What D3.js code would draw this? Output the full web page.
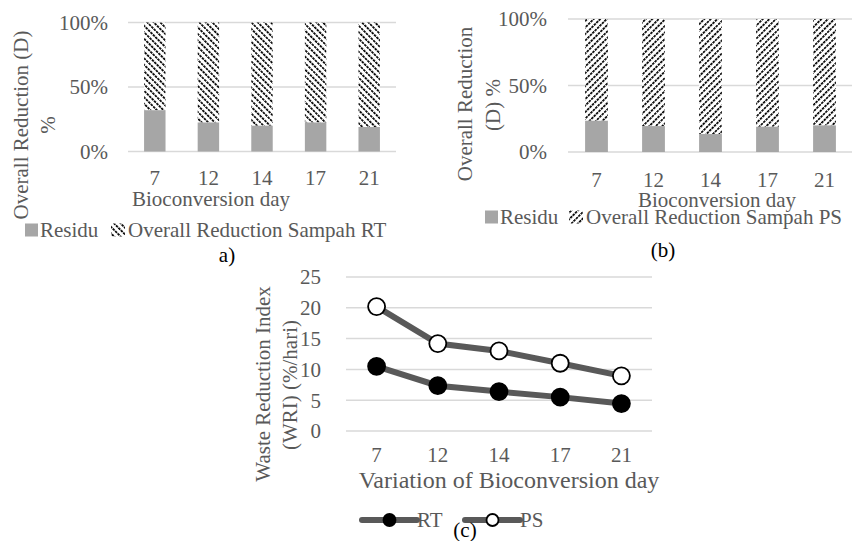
<!DOCTYPE html>
<html>
<head>
<meta charset="utf-8">
<script src="https://cdn.jsdelivr.net/npm/d3@7"></script>
<style>
  body { margin: 0; background: #fff; }
  text { font-family: "Liberation Serif", "Times New Roman", serif; fill: #595959; }
</style>
</head>
<body>
<script>
// data
var days = ['7', '12', '14', '17', '21'];
var residuRT = [0.32, 0.225, 0.20, 0.225, 0.19];
var residuPS = [0.235, 0.195, 0.135, 0.19, 0.20];
var pctTicks = [0, 0.5, 1];
var wriRT = [10.5, 7.35, 6.4, 5.5, 4.45];
var wriPS = [20.2, 14.2, 13.0, 11.0, 8.95];
var wriTicks = [0, 5, 10, 15, 20, 25];

var svg = d3.select('body').append('svg').attr('width', 852).attr('height', 541);
var defs = svg.append('defs');

// dashed diagonal hatch
function hatch(id, angle) {
    var p = defs.append('pattern').attr('id', id).attr('patternUnits', 'userSpaceOnUse')
        .attr('width', 4.6).attr('height', 3.4).attr('patternTransform', 'rotate(' + angle + ')');
    p.append('rect').attr('width', 4.6).attr('height', 3.4).attr('fill', '#fff');
    p.append('rect').attr('x', 0).attr('y', 0).attr('width', 1.7).attr('height', 2.6).attr('fill', '#000');
}
hatch('hatchA', -45);
hatch('hatchB', 45);

var grey = '#595959', residuFill = '#a6a6a6', gridCol = '#d9d9d9';

function stacked(cfg) {
    var x = d3.scaleBand().domain(days).range([cfg.x0, cfg.x1]).paddingInner(0.6).paddingOuter(0.3);
    var y = d3.scaleLinear().domain([0, 1]).range([cfg.y0, cfg.y1]);
    var g = svg.append('g');

    g.selectAll('line.grid').data(pctTicks).enter().append('line')
        .attr('x1', cfg.x0).attr('x2', cfg.gx1)
        .attr('y1', function(d) { return y(d); }).attr('y2', function(d) { return y(d); })
        .attr('stroke', gridCol).attr('stroke-width', 1.5);

    g.selectAll('rect.top').data(cfg.values).enter().append('rect')
        .attr('x', function(d, i) { return x(days[i]); })
        .attr('width', x.bandwidth())
        .attr('y', y(1))
        .attr('height', function(d) { return y(d) - y(1); })
        .attr('fill', 'url(#' + cfg.pattern + ')');
    g.selectAll('rect.res').data(cfg.values).enter().append('rect')
        .attr('x', function(d, i) { return x(days[i]); })
        .attr('width', x.bandwidth())
        .attr('y', function(d) { return y(d); })
        .attr('height', function(d) { return y(0) - y(d); })
        .attr('fill', residuFill);

    g.selectAll('text.yt').data(pctTicks).enter().append('text')
        .attr('x', cfg.ytx).attr('y', function(d) { return y(d); })
        .attr('dy', '0.35em').attr('text-anchor', 'end').style('font-size', '21px')
        .text(function(d) { return d3.format('.0%')(d); });
    g.selectAll('text.xt').data(days).enter().append('text')
        .attr('x', function(d) { return x(d) + x.bandwidth() / 2; }).attr('y', cfg.xty)
        .attr('dy', '0.35em').attr('text-anchor', 'middle').style('font-size', '21px')
        .text(function(d) { return d; });

    g.append('text').attr('x', cfg.xtitle[0]).attr('y', cfg.xtitle[1]).attr('dy', '0.35em')
        .attr('text-anchor', 'middle').style('font-size', '21px').text('Bioconversion day');

    cfg.ytitle.forEach(function(t) {
        g.append('text').attr('transform', 'translate(' + t[1] + ',' + t[2] + ') rotate(-90)')
            .attr('dy', '0.35em').attr('text-anchor', 'middle').style('font-size', '21px').text(t[0]);
    });

    var L = cfg.legend;
    g.append('rect').attr('x', L.x).attr('y', L.y - 6.5).attr('width', 13).attr('height', 13).attr('fill', residuFill);
    g.append('text').attr('x', L.x + 15).attr('y', L.y).attr('dy', '0.35em').style('font-size', '21px').text('Residu');
    g.append('rect').attr('x', L.x2).attr('y', L.y - 6.5).attr('width', 14).attr('height', 13)
        .attr('fill', 'url(#' + cfg.pattern + ')');
    g.append('text').attr('x', L.x2 + 17).attr('y', L.y).attr('dy', '0.35em').style('font-size', '21px').text(L.label);

    g.append('text').attr('x', cfg.cap[1]).attr('y', cfg.cap[2]).attr('dy', '0.35em')
        .attr('text-anchor', 'middle').style('font-size', '21px').style('fill', '#000').text(cfg.cap[0]);
}

stacked({
    x0: 128, x1: 396, gx1: 396, y0: 151.5, y1: 22.5, values: residuRT, pattern: 'hatchA',
    ytx: 108, xty: 178, xtitle: [211, 199],
    ytitle: [['Overall Reduction (D)', 21, 125], ['%', 48, 125]],
    legend: { x: 25, y: 230, x2: 111, label: 'Overall Reduction Sampah RT' },
    cap: ['a)', 227, 255]
});
stacked({
    x0: 568, x1: 853, gx1: 852, y0: 152, y1: 19, values: residuPS, pattern: 'hatchB',
    ytx: 547, xty: 180, xtitle: [717, 200],
    ytitle: [['Overall Reduction', 465, 104], ['(D) %', 493, 105]],
    legend: { x: 485, y: 217, x2: 569, label: 'Overall Reduction Sampah PS' },
    cap: ['(b)', 663, 250]
});

// panel c: line chart
var xc = d3.scalePoint().domain(days).range([346, 652]).padding(0.5);
var yc = d3.scaleLinear().domain([0, 25]).range([431, 277]);
var gc = svg.append('g');

gc.selectAll('line.grid').data(wriTicks).enter().append('line')
    .attr('x1', 346).attr('x2', 652)
    .attr('y1', function(d) { return yc(d); }).attr('y2', function(d) { return yc(d); })
    .attr('stroke', gridCol).attr('stroke-width', 1.5);

gc.selectAll('text.yt').data(wriTicks).enter().append('text')
    .attr('x', 321).attr('y', function(d) { return yc(d); }).attr('dy', '0.35em')
    .attr('text-anchor', 'end').style('font-size', '21px').text(function(d) { return d; });
gc.selectAll('text.xt').data(days).enter().append('text')
    .attr('x', function(d) { return xc(d); }).attr('y', 455).attr('dy', '0.35em')
    .attr('text-anchor', 'middle').style('font-size', '21px').text(function(d) { return d; });
gc.append('text').attr('x', 509).attr('y', 480).attr('dy', '0.35em').attr('text-anchor', 'middle')
    .style('font-size', '24px').text('Variation of Bioconversion day');
[['Waste Reduction Index', 263, 384], ['(WRI) (%/hari)', 290, 385]].forEach(function(t) {
    gc.append('text').attr('transform', 'translate(' + t[1] + ',' + t[2] + ') rotate(-90)')
        .attr('dy', '0.35em').attr('text-anchor', 'middle').style('font-size', '21px').text(t[0]);
});

var line = d3.line().x(function(d, i) { return xc(days[i]); }).y(function(d) { return yc(d); });
var series = [
    { name: 'RT', values: wriRT, fill: '#000', lx: 362 },
    { name: 'PS', values: wriPS, fill: '#fff', lx: 465 }
];
series.forEach(function(s) {
    gc.append('path').datum(s.values).attr('d', line).attr('fill', 'none')
        .attr('stroke', grey).attr('stroke-width', 6);
    gc.selectAll(null).data(s.values).enter().append('circle')
        .attr('cx', function(d, i) { return xc(days[i]); }).attr('cy', function(d) { return yc(d); })
        .attr('r', 8.5).attr('fill', s.fill).attr('stroke', '#000').attr('stroke-width', 1.8);
    // legend
    gc.append('line').attr('x1', s.lx).attr('x2', s.lx + 55).attr('y1', 520).attr('y2', 520)
        .attr('stroke', grey).attr('stroke-width', 6).attr('stroke-linecap', 'round');
    gc.append('circle').attr('cx', s.lx + 27.5).attr('cy', 520).attr('r', 6)
        .attr('fill', s.fill).attr('stroke', '#000').attr('stroke-width', 1.8);
    gc.append('text').attr('x', s.lx + 55).attr('y', 520).attr('dy', '0.35em')
        .style('font-size', '21px').text(s.name);
});
gc.append('text').attr('x', 465).attr('y', 530).attr('dy', '0.35em').attr('text-anchor', 'middle')
    .style('font-size', '21px').style('fill', '#000').text('(c)');
</script>
</body>
</html>
